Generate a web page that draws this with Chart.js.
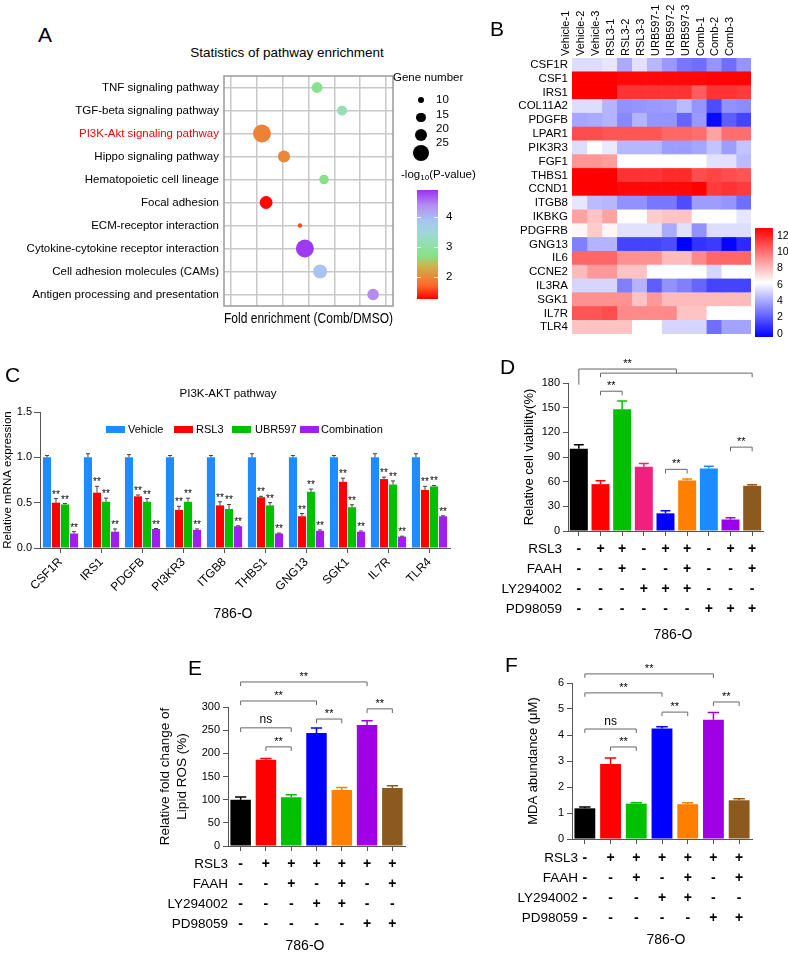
<!DOCTYPE html>
<html><head><meta charset="utf-8">
<script src="https://cdn.jsdelivr.net/npm/chart.js@4/dist/chart.umd.min.js"></script>
<style>
html,body{margin:0;padding:0;background:#fff;}
#root{position:relative;width:788px;height:954px;overflow:hidden;font-family:"Liberation Sans",Arial,Helvetica,sans-serif;color:#000;background:#fff;}
canvas{position:absolute;}
.t{position:absolute;line-height:1;white-space:nowrap;}
.t sub{font-size:0.7em;vertical-align:-0.25em;line-height:0;}
</style></head><body><div id="root"></div>
<script>
// ---------------- Panel A data ----------------
const pathways = ['TNF signaling pathway','TGF-beta signaling pathway','PI3K-Akt signaling pathway','Hippo signaling pathway','Hematopoietic cell lineage','Focal adhesion','ECM-receptor interaction','Cytokine-cytokine receptor interaction','Cell adhesion molecules (CAMs)','Antigen processing and presentation'];
const highlightPathway = 'PI3K-Akt signaling pathway';
const foldEnrichment = [5.33, 6.30, 3.20, 4.05, 5.60, 3.36, 4.67, 4.86, 5.45, 7.50];
const geneNumber = [17, 16, 28, 19, 15, 20, 7, 28, 22, 18];
const negLog10P = [2.8, 3.2, 1.95, 2.0, 2.7, 1.3, 1.6, 4.85, 3.9, 4.4];
const foldGridTicks = [2, 3, 4, 5, 6, 7, 8];
const geneSizeLegend = [10, 15, 20, 25];
const pColorTicks = [4, 3, 2];

// ---------------- Panel B data ----------------
const samplesB = ['Vehicle-1','Vehicle-2','Vehicle-3','RSL3-1','RSL3-2','RSL3-3','URB597-1','URB597-2','URB597-3','Comb-1','Comb-2','Comb-3'];
const genesB = ['CSF1R','CSF1','IRS1','COL11A2','PDGFB','LPAR1','PIK3R3','FGF1','THBS1','CCND1','ITGB8','IKBKG','PDGFRB','GNG13','IL6','CCNE2','IL3RA','SGK1','IL7R','TLR4'];
const exprB = [
  [5.2,5.2,5.4,4.0,5.3,4.3,3.6,2.8,2.6,3.5,2.6,3.5],
  [12,12,12,11.8,11.8,11.8,11.8,11.8,11.8,11.9,11.9,11.9],
  [12,12,12,10.8,10.8,10.8,10.8,10.8,9.8,10.8,10.8,10.6],
  [5.2,5.2,4.2,3.4,3.5,3.6,3.7,4.4,3.5,1.8,3.4,3.3],
  [3.9,4.0,4.2,3.2,4.2,3.5,3.5,2.4,3.6,0.2,2.2,1.6],
  [10.2,10.2,10.0,10.0,10.0,10.0,9.6,9.6,9.4,8.2,9.4,9.4],
  [5.2,6.0,5.5,4.3,4.3,4.3,3.7,3.7,3.9,4.6,3.7,4.6],
  [8.5,8.5,8.3,6.0,6.0,6.0,6.0,6.0,6.0,5.3,5.3,4.4],
  [12,12,12,10.8,10.8,10.8,11.0,11.0,10.2,10.4,10.2,10.0],
  [12,12,12,11.8,11.8,11.8,11.8,11.8,12,10.6,10.8,10.6],
  [5.4,4.4,4.3,3.4,3.4,2.8,2.8,1.8,3.7,3.7,3.5,2.6],
  [8.2,7.4,8.2,6.0,6.0,7.2,7.4,7.4,6.0,6.0,6.0,5.4],
  [6.2,7.2,6.2,5.3,5.3,5.3,4.0,5.3,3.4,5.2,5.2,5.2],
  [3.0,4.2,4.2,1.6,1.6,1.6,1.8,0.0,1.2,1.4,0.1,1.0],
  [9.6,9.6,9.6,8.6,8.6,8.6,7.6,7.6,8.8,9.6,9.6,9.6],
  [7.6,8.4,8.4,7.4,7.4,6.0,6.0,6.0,6.0,5.0,6.0,6.0],
  [5.0,5.0,5.0,3.0,4.2,2.2,3.4,3.0,2.4,1.6,1.6,1.6],
  [8.6,8.6,8.6,8.6,7.4,8.4,7.6,7.6,7.6,7.6,7.6,7.6],
  [10.0,10.0,10.2,8.8,8.8,8.8,8.8,7.4,7.4,6.0,6.0,6.0],
  [7.4,7.4,7.4,7.4,6.0,6.0,5.0,5.0,5.0,2.6,3.8,3.8]
];
const heatLegendTicks = [12, 10, 8, 6, 4, 2, 0];

// ---------------- Panel C data ----------------
const genesC = ['CSF1R','IRS1','PDGFB','PI3KR3','ITGB8','THBS1','GNG13','SGK1','IL7R','TLR4'];
const seriesC = ['Vehicle','RSL3','UBR597','Combination'];
const vehicleC = [1.0,1.0,1.0,1.0,1.0,1.0,1.0,1.0,1.0,1.0];
const rsl3C = [0.50,0.61,0.57,0.42,0.47,0.56,0.35,0.73,0.76,0.64];
const ubr597C = [0.48,0.51,0.51,0.51,0.43,0.47,0.62,0.45,0.70,0.68];
const combinationC = [0.16,0.18,0.21,0.20,0.24,0.16,0.19,0.18,0.125,0.35];
const vehicleErrC = [0.02,0.04,0.03,0.02,0.02,0.04,0.02,0.02,0.04,0.04];
const rsl3ErrC = [0.045,0.07,0.015,0.04,0.04,0.01,0.03,0.04,0.022,0.04];
const ubr597ErrC = [0.01,0.04,0.035,0.04,0.05,0.03,0.03,0.027,0.04,0.01];
const combinationErrC = [0.02,0.03,0.005,0.01,0.005,0.005,0.01,0.008,0.005,0.005];
const vehicleSigC = ['','','','','','','','','',''];
const rsl3SigC = ['**','**','**','**','**','**','**','**','**','**'];
const ubr597SigC = ['**','**','**','**','**','**','**','**','**','**'];
const combinationSigC = ['**','**','**','**','**','**','**','**','**','**'];

// ---------------- Panel D data ----------------
const rsl3D = ['-','+','+','-','+','+','-','+','+'];
const faahD = ['-','-','+','-','-','+','-','-','+'];
const ly294002D = ['-','-','-','+','+','+','-','-','-'];
const pd98059D = ['-','-','-','-','-','-','+','+','+'];
const viabilityD = [100, 57, 148, 78, 21.5, 61.5, 76, 14, 55];
const viabilityErrD = [5, 4, 10, 4, 3, 1.6, 2.8, 2, 1.3];
const bracketsD = [
  {from:0, to:4.5, y:197, yFrom:178, yTo:192, text:'**'},
  {from:1, to:8, y:192, yFrom:187, yTo:187, text:''},
  {from:1, to:2, y:170, yFrom:165, yTo:165, text:'**'},
  {from:4, to:5, y:75, yFrom:70, yTo:70, text:'**'},
  {from:7, to:8, y:102, yFrom:97, yTo:97, text:'**'}
];

// ---------------- Panel E data ----------------
const rsl3E = ['-','+','+','+','+','+','+'];
const faahE = ['-','-','+','-','+','-','+'];
const ly294002E = ['-','-','-','+','+','-','-'];
const pd98059E = ['-','-','-','-','-','+','+'];
const lipidRosE = [100, 186, 105, 244, 121, 261, 125];
const lipidRosErrE = [5.5, 3, 5.7, 10.8, 5, 9.3, 5];
const bracketsE = [
  {from:0, to:5, y:354, yFrom:345, yTo:345, text:'**'},
  {from:0, to:3, y:313, yFrom:304, yTo:304, text:'**'},
  {from:0, to:2, y:255, yFrom:246, yTo:246, text:'ns'},
  {from:1, to:2, y:214, yFrom:205, yTo:205, text:'**'},
  {from:3, to:4, y:274, yFrom:265, yTo:265, text:'**'},
  {from:5, to:6, y:296, yFrom:287, yTo:287, text:'**'}
];

// ---------------- Panel F data ----------------
const rsl3F = ['-','+','+','+','+','+','+'];
const faahF = ['-','-','+','-','+','-','+'];
const ly294002F = ['-','-','-','+','+','-','-'];
const pd98059F = ['-','-','-','-','-','+','+'];
const mdaF = [1.18, 2.88, 1.36, 4.25, 1.34, 4.59, 1.49];
const mdaErrF = [0.05, 0.24, 0.03, 0.07, 0.05, 0.28, 0.06];
const bracketsF = [
  {from:0, to:5, y:6.35, yFrom:6.2, yTo:6.2, text:'**'},
  {from:0, to:3, y:5.62, yFrom:5.47, yTo:5.47, text:'**'},
  {from:0, to:2, y:4.23, yFrom:4.08, yTo:4.08, text:'ns'},
  {from:1, to:2, y:3.54, yFrom:3.39, yTo:3.39, text:'**'},
  {from:3, to:4, y:4.88, yFrom:4.73, yTo:4.73, text:'**'},
  {from:5, to:6, y:5.27, yFrom:5.12, yTo:5.12, text:'**'}
];
const treatmentNames = ['RSL3','FAAH','LY294002','PD98059'];

// ---------------- styles ----------------
const FONT = '"Liberation Sans", Arial, Helvetica, sans-serif';
Chart.defaults.font.family = FONT;
Chart.defaults.color = '#000';
const colorsC = ['#1e8cff','#ff0000','#00c000','#a01ef0'];
const colorsD = ['#000000','#ff0000','#00c000','#f0207d','#0000ff','#ff8000','#1a8cff','#9a00ee','#8c5a1e'];
const colorsEF = ['#000000','#ff0000','#00c000','#0000ff','#ff8000','#a000e6','#8c5a1e'];
const pStops = [[1.27,[255,0,0]],[1.7,[255,100,40]],[2.0,[232,136,58]],[2.4,[200,184,80]],[2.7,[136,224,136]],[3.05,[144,224,168]],[3.45,[160,216,216]],[3.9,[168,196,240]],[4.4,[180,140,240]],[4.9,[154,48,240]]];
const pMin = 1.27, pMax = 4.9;

const root = document.getElementById('root');
function canvasAt(l, t, w, h) {
  const c = document.createElement('canvas');
  c.width = w; c.height = h;
  c.style.left = l + 'px'; c.style.top = t + 'px';
  c.style.width = w + 'px'; c.style.height = h + 'px';
  root.appendChild(c);
  return c;
}
function txt(s, x, cy, fs, align, extra) {
  const d = document.createElement('div'); d.className = 't';
  d.innerHTML = s; d.style.fontSize = fs + 'px';
  d.style.top = (cy - 0.5 * fs) + 'px';
  if (!align || align === 'left') d.style.left = x + 'px';
  else if (align === 'right') d.style.right = (788 - x) + 'px';
  else { d.style.left = x + 'px'; d.style.transform = 'translateX(-50%)'; }
  if (extra) Object.assign(d.style, extra);
  root.appendChild(d);
  return d;
}
function box(l, t, w, h, extra) {
  const d = document.createElement('div');
  d.style.position = 'absolute'; d.style.left = l + 'px'; d.style.top = t + 'px';
  d.style.width = w + 'px'; d.style.height = h + 'px';
  Object.assign(d.style, extra || {});
  root.appendChild(d);
  return d;
}
function pColor(v) {
  if (v <= pStops[0][0]) return 'rgb(' + pStops[0][1] + ')';
  for (let i = 1; i < pStops.length; i++) {
    if (v <= pStops[i][0]) {
      const [a, ca] = pStops[i - 1], [b, cb] = pStops[i];
      const f = (v - a) / (b - a);
      return 'rgb(' + ca.map((c, k) => Math.round(c + (cb[k] - c) * f)).join(',') + ')';
    }
  }
  return 'rgb(' + pStops[pStops.length - 1][1] + ')';
}
function heatColor(v) {
  const t = Math.max(0, Math.min(12, v));
  if (t <= 6) { const f = t / 6; const c = Math.round(255 * f); return `rgb(${c},${c},255)`; }
  const f = (t - 6) / 6; const c = Math.round(255 * (1 - f)); return `rgb(255,${c},${c})`;
}
const geneRadius = n => n * 0.32;

// ---------------- plugins ----------------
function errorBars(opt) {
  return { id: 'errorBars', afterDatasetsDraw(chart) {
    const ctx = chart.ctx, ys = chart.scales.y;
    chart.data.datasets.forEach((ds, i) => {
      if (!ds.errors) return;
      const meta = chart.getDatasetMeta(i);
      meta.data.forEach((el, j) => {
        const v = ds.data[j], e = ds.errors[j];
        const yTop = ys.getPixelForValue(v + e);
        const col = opt.color || (Array.isArray(ds.backgroundColor) ? ds.backgroundColor[j] : ds.backgroundColor);
        const cw = el.width * opt.cap;
        ctx.save(); ctx.strokeStyle = col; ctx.lineWidth = opt.lw;
        ctx.beginPath(); ctx.moveTo(el.x, el.y); ctx.lineTo(el.x, yTop);
        ctx.moveTo(el.x - cw / 2, yTop); ctx.lineTo(el.x + cw / 2, yTop); ctx.stroke();
        if (ds.sig && ds.sig[j]) {
          ctx.fillStyle = '#000'; ctx.font = opt.sigFont; ctx.textAlign = 'center'; ctx.textBaseline = 'alphabetic';
          ctx.fillText(ds.sig[j], el.x, yTop + opt.sigDy);
        }
        ctx.restore();
      });
    });
  }};
}
function brackets(list) {
  return { id: 'brackets', afterDraw(chart) {
    const ctx = chart.ctx, xs = chart.scales.x, ys = chart.scales.y;
    ctx.save(); ctx.strokeStyle = '#666'; ctx.lineWidth = 1;
    list.forEach(b => {
      const x1 = xs.getPixelForValue(b.from), x2 = xs.getPixelForValue(b.to);
      const y = ys.getPixelForValue(b.y), ya = ys.getPixelForValue(b.yFrom), yb = ys.getPixelForValue(b.yTo);
      ctx.beginPath(); ctx.moveTo(x1, ya); ctx.lineTo(x1, y); ctx.lineTo(x2, y); ctx.lineTo(x2, yb); ctx.stroke();
      if (b.text) {
        const ns = b.text === 'ns';
        ctx.fillStyle = '#000'; ctx.textAlign = 'center'; ctx.textBaseline = 'alphabetic';
        ctx.font = (ns ? '12px ' : '11px ') + FONT;
        ctx.fillText(b.text, (x1 + x2) / 2, y - (ns ? 4.5 : 2));
      }
    });
    ctx.restore();
  }};
}
function rowLabels(names, dx, fontPx, lh) {
  return { id: 'rowLabels', afterDraw(chart) {
    const xs = chart.scales.x, ctx = chart.ctx;
    const tl = xs.options.grid.tickLength, pad = xs.options.ticks.padding;
    ctx.save(); ctx.fillStyle = '#000'; ctx.font = fontPx + 'px ' + FONT;
    ctx.textAlign = 'right'; ctx.textBaseline = 'middle';
    names.forEach((n, i) => ctx.fillText(n, chart.chartArea.left + dx, xs.top + tl + pad + lh * (i + 0.5)));
    ctx.restore();
  }};
}
const frame = { id: 'frame', afterDraw(chart) {
  const a = chart.chartArea, ctx = chart.ctx;
  ctx.save(); ctx.strokeStyle = '#9a9a9a'; ctx.lineWidth = 1.5;
  ctx.strokeRect(a.left, a.top, a.right - a.left, a.bottom - a.top); ctx.restore();
}};

const baseOpts = { responsive: false, animation: false, devicePixelRatio: 1, events: [] };

// ---------------- Panel A ----------------
new Chart(canvasAt(0, 60, 480, 280), {
  type: 'bubble',
  data: { datasets: [{
    data: pathways.map((p, i) => ({ x: foldEnrichment[i], y: i, r: geneRadius(geneNumber[i]) })),
    backgroundColor: negLog10P.map(pColor), borderWidth: 0
  }]},
  options: Object.assign({}, baseOpts, {
    layout: { padding: { left: 0, right: 87, top: 16, bottom: 8 } },
    plugins: { legend: { display: false }, tooltip: { enabled: false } },
    scales: {
      x: { type: 'linear', min: 1.73, max: 8.27,
        afterBuildTicks: s => { s.ticks = foldGridTicks.map(v => ({ value: v })); },
        ticks: { display: false }, grid: { color: '#c8c8c8', lineWidth: 1.5, drawTicks: false },
        border: { display: false },
        title: { display: true, text: 'Fold enrichment (Comb/DMSO)', font: { size: 14 }, padding: { top: 4, bottom: 4 } },
        afterFit: s => { s.height = 26; } },
      y: { type: 'category', labels: pathways, offset: true,
        ticks: { autoSkip: false, padding: 5, font: { size: 11.5 },
          color: c => (pathways[c.index] === highlightPathway ? '#ff0000' : '#000') },
        grid: { color: '#c8c8c8', lineWidth: 1.5, drawTicks: false, offset: false },
        border: { display: false },
        afterFit: s => { s.width = 224; } }
    }
  }),
  plugins: [frame]
});
txt('A', 38, 34.5, 21);
txt('Statistics of pathway enrichment', 287, 53, 13.5, 'center');
txt('Gene number', 393, 78, 11.5);
const legendDotY = [100, 117.5, 135, 153], legendLabelY = [100, 115, 129, 143];
geneSizeLegend.forEach((n, i) => {
  const r = geneRadius(n);
  box(421 - r, legendDotY[i] - r, 2 * r, 2 * r, { background: '#000', borderRadius: '50%' });
  txt(String(n), 436, legendLabelY[i], 11.5);
});
txt('-log<sub>10</sub>(P-value)', 401, 175, 11.5);
box(417, 190, 21, 109, { background: 'linear-gradient(to top,' + pStops.map(([v, c]) => `rgb(${c}) ${((v - pMin) / (pMax - pMin) * 100).toFixed(1)}%`).join(',') + ')' });
pColorTicks.forEach(v => {
  const y = 299 - (v - pMin) / (pMax - pMin) * 109;
  box(417, y - 0.5, 4, 1, { background: '#fff' });
  box(434, y - 0.5, 4, 1, { background: '#fff' });
  txt(String(v), 446, y, 11.5);
});

// ---------------- Panel B (heatmap) ----------------
new Chart(canvasAt(480, 0, 308, 345), {
  type: 'bar',
  data: { labels: genesB, datasets: samplesB.map((s, j) => ({
    label: s, data: genesB.map(() => 1),
    backgroundColor: exprB.map(row => heatColor(row[j])),
    borderWidth: 0, barPercentage: 1, categoryPercentage: 1
  }))},
  options: Object.assign({}, baseOpts, {
    indexAxis: 'y',
    layout: { padding: { left: 0, right: 37, top: 0, bottom: 4 } },
    plugins: { legend: { display: false }, tooltip: { enabled: false } },
    scales: {
      x: { stacked: true, min: 0, max: samplesB.length, position: 'top',
        afterBuildTicks: s => { s.ticks = samplesB.map((_, i) => ({ value: i + 0.5 })); },
        ticks: { callback: (v, i) => samplesB[i], autoSkip: false, minRotation: 90, maxRotation: 90, padding: 2, font: { size: 11 } },
        grid: { display: false, drawTicks: false }, border: { display: false },
        afterFit: s => { s.height = 58; } },
      y: { stacked: true, ticks: { autoSkip: false, padding: 4, font: { size: 11.5 } },
        grid: { display: false, drawTicks: false }, border: { display: false },
        afterFit: s => { s.width = 92; } }
    }
  })
});
txt('B', 490, 28, 21);
box(755, 228, 18, 109, { background: 'linear-gradient(to top, rgb(0,0,255) 0%, rgb(255,255,255) 50%, rgb(255,0,0) 100%)' });
heatLegendTicks.forEach(v => txt(String(v), 777, 235 + (12 - v) * 8.17, 10.5));

// ---------------- Panel C ----------------
const valuesC = [vehicleC, rsl3C, ubr597C, combinationC];
const errorsC = [vehicleErrC, rsl3ErrC, ubr597ErrC, combinationErrC];
const sigsC = [vehicleSigC, rsl3SigC, ubr597SigC, combinationSigC];
new Chart(canvasAt(0, 380, 460, 240), {
  type: 'bar',
  data: { labels: genesC, datasets: seriesC.map((name, k) => ({
    label: name, data: valuesC[k], errors: errorsC[k], sig: sigsC[k],
    backgroundColor: colorsC[k], borderWidth: 0, barPercentage: 0.9, categoryPercentage: 0.88
  }))},
  options: Object.assign({}, baseOpts, {
    layout: { padding: { left: 0, right: 10, top: 32, bottom: 0 } },
    plugins: { legend: { display: false }, tooltip: { enabled: false } },
    scales: {
      x: { grid: { offset: false, drawOnChartArea: false, tickLength: 5, color: '#555' }, border: { color: '#555' },
        ticks: { autoSkip: false, minRotation: 45, maxRotation: 45, padding: 2, font: { size: 12 } },
        afterFit: s => { s.height = 72; } },
      y: { min: 0, max: 1.5, ticks: { stepSize: 0.5, callback: v => v.toFixed(1), font: { size: 11 }, padding: 2 },
        grid: { drawOnChartArea: false, tickLength: 6, color: '#555' }, border: { color: '#555' },
        title: { display: true, text: 'Relative mRNA expression', font: { size: 11.5 }, padding: { top: 1, bottom: 0 } },
        afterFit: s => { s.width = 40; } }
    }
  }),
  plugins: [errorBars({ color: '#444', lw: 1, cap: 0.5, sigFont: '10px ' + FONT, sigDy: -1 })]
});
txt('C', 5, 374, 21);
txt('PI3K-AKT pathway', 228, 394, 11.5, 'center');
const legBoxX = [106, 174, 232, 300], legTextX = [128, 196, 255, 321];
seriesC.forEach((name, k) => {
  box(legBoxX[k], 425.5, 19, 7, { background: colorsC[k] });
  txt(name, legTextX[k], 429, 11);
});
txt('786-O', 233, 613, 14, 'center');

// ---------------- Panels D, E, F ----------------
function treatmentChart(c) {
  const labels = c.signs[0].map((_, i) => c.signs.map(r => r[i]));
  return new Chart(canvasAt(c.left, c.top, c.w, c.h), {
    type: 'bar',
    data: { labels, datasets: [{ data: c.values, errors: c.errors, backgroundColor: c.colors, borderWidth: 0, barPercentage: c.barPct, categoryPercentage: 1 }] },
    options: Object.assign({}, baseOpts, {
      layout: { padding: c.pad },
      plugins: { legend: { display: false }, tooltip: { enabled: false } },
      scales: {
        x: { grid: { offset: false, drawOnChartArea: false, tickLength: 5, color: '#555' }, border: { color: '#555' },
          ticks: { autoSkip: false, minRotation: 0, maxRotation: 0, padding: c.tickPad, font: { size: 14, weight: 'bold', lineHeight: 20 / 14 } },
          afterFit: s => { s.height = c.xh; } },
        y: { min: 0, max: c.yMax, ticks: { stepSize: c.yStep, font: { size: 11 }, padding: 3 },
          grid: { drawOnChartArea: false, tickLength: 5, color: '#555' }, border: { color: '#555' },
          title: { display: true, text: c.yTitle, font: { size: c.titleSize, lineHeight: 1.25 }, padding: { top: 2, bottom: 0 } },
          afterFit: s => { s.width = c.yw; } }
      }
    }),
    plugins: [errorBars({ lw: 1.5, cap: 0.55, sigFont: '11px ' + FONT, sigDy: 0 }), brackets(c.brackets), rowLabels(treatmentNames, c.rowDx, 13.5, 20)]
  });
}
treatmentChart({ left: 500, top: 340, w: 288, h: 300, pad: { left: 19, right: 25, top: 43, bottom: 21 }, yw: 49, xh: 88, tickPad: 3,
  values: viabilityD, errors: viabilityErrD, colors: colorsD, signs: [rsl3D, faahD, ly294002D, pd98059D], barPct: 0.83,
  yMax: 180, yStep: 30, yTitle: 'Relative cell viability(%)', titleSize: 13, brackets: bracketsD, rowDx: -6 });
txt('D', 500, 366, 21);
txt('786-O', 673, 634, 14, 'center');

treatmentChart({ left: 140, top: 650, w: 270, h: 300, pad: { left: 14.6, right: 5, top: 57, bottom: 16 }, yw: 73.4, xh: 88, tickPad: 3,
  values: lipidRosE, errors: lipidRosErrE, colors: colorsEF, signs: [rsl3E, faahE, ly294002E, pd98059E], barPct: 0.81,
  yMax: 300, yStep: 50, yTitle: ['Relative fold change of', 'Lipid ROS (%)'], titleSize: 13.5, brackets: bracketsE, rowDx: 0 });
txt('E', 188, 667, 21);
txt('786-O', 305, 945, 14, 'center');

treatmentChart({ left: 500, top: 650, w: 288, h: 300, pad: { left: 23, right: 36, top: 33, bottom: 22 }, yw: 49, xh: 89, tickPad: 4,
  values: mdaF, errors: mdaErrF, colors: colorsEF, signs: [rsl3F, faahF, ly294002F, pd98059F], barPct: 0.81,
  yMax: 6, yStep: 1, yTitle: 'MDA abundance (\u03bcM)', titleSize: 13, brackets: bracketsF, rowDx: 6 });
txt('F', 505, 664, 21);
txt('786-O', 666, 939, 14, 'center');
</script></body></html>
